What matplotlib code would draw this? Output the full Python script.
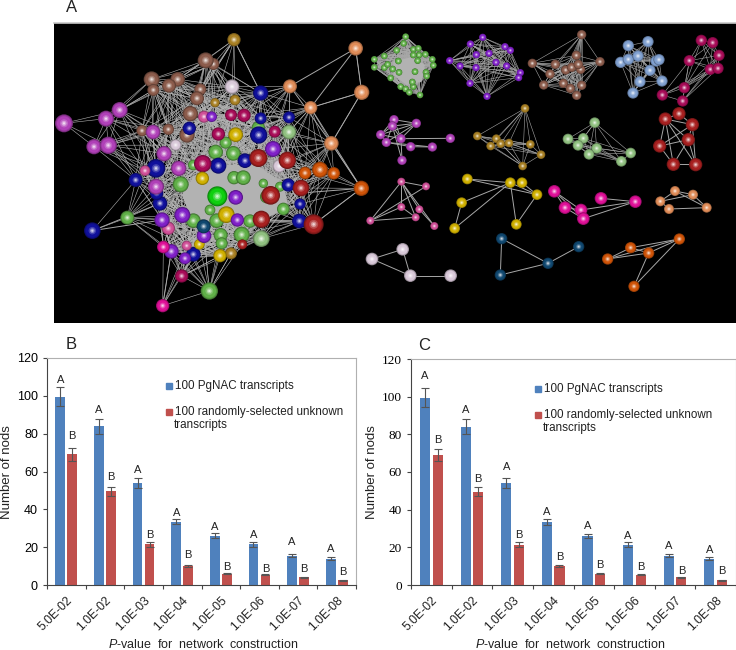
import itertools
import numpy as np
import matplotlib
matplotlib.use('Agg')
import matplotlib.pyplot as plt
from matplotlib.patches import Rectangle, Polygon

plt.rcParams['font.family'] = 'Liberation Sans'
plt.rcParams['mathtext.fontset'] = 'custom'
plt.rcParams['mathtext.it'] = 'Liberation Sans:italic'
plt.rcParams['mathtext.rm'] = 'Liberation Sans'

W, H = 736, 650

# bar chart data
pvalues = ['5.0E-02', '1.0E-02', '1.0E-03', '1.0E-04', '1.0E-05', '1.0E-06', '1.0E-07', '1.0E-08']
nac = [99.5, 84, 54, 33.5, 26, 21.5, 15.5, 14]
nac_err = [5, 4, 2.7, 1.5, 1.3, 1.2, 0.8, 0.7]
unknown = [69, 49.5, 21.5, 10, 6, 5.5, 4, 2.5]
unknown_err = [3.4, 2.4, 1.2, 0.6, 0.3, 0.3, 0.2, 0.2]
b_a_heights = [108.5, 92.6, 60.8, 37.9, 30.9, 26.5, 22.6, 19.2]
b_b_heights = [78.8, 57.3, 26.3, 15.7, 9.7, 8.6, 8.5, 6.7]
c_a_heights = [111, 92.9, 62.7, 39, 31.1, 26.1, 20.8, 18.7]
c_b_heights = [77.2, 56.5, 26.5, 15, 10.8, 9.7, 7.2, 7.2]

# network colours
palette = {
    'orchid': '#b040b8', 'brown': '#8c5c4c', 'gold': '#a88024', 'peach': '#e08c58',
    'navy': '#10109c', 'orange': '#d05408', 'red': '#a82020', 'green': '#60b048',
    'pale': '#90c080', 'violet': '#8020c8', 'magenta': '#e01098', 'crimson': '#a80c58',
    'yellow': '#d0b000', 'white': '#d8c8d8', 'teal': '#104870', 'pink': '#d05098',
    'lime': '#10d010', 'blue': '#80a0d0',
}

# big network, nodes as x, y, radius in a 3x view of the panel
big_nodes = {
    'gold': [(552, 119, 20), (495, 308, 14), (555, 300, 16), (543, 760, 18)],
    'peach': [(917, 145, 22), (720, 259, 21), (935, 277, 23), (782, 323, 20), (844, 430, 22)],
    'orange': [(934, 565, 23), (810, 509, 24), (851, 520, 19), (765, 519, 19)],
    'brown': [(490, 192, 18), (467, 181, 24), (305, 238, 24), (383, 238, 22), (357, 257, 21),
              (310, 270, 18), (451, 268, 18), (441, 295, 21), (421, 341, 23), (276, 392, 17),
              (355, 388, 17), (411, 405, 23)],
    'white': [(546, 260, 22), (377, 435, 17), (688, 498, 20)],
    'green': [(625, 383, 20), (497, 456, 22), (527, 428, 18), (392, 553, 24), (232, 653, 21),
              (430, 662, 22), (500, 662, 22), (512, 705, 21), (575, 704, 24), (700, 627, 19),
              (600, 663, 20), (478, 873, 26), (552, 533, 20), (580, 533, 22), (650, 590, 20),
              (550, 460, 22), (430, 495, 16), (480, 630, 16), (690, 560, 15), (640, 550, 14),
              (515, 730, 18)],
    'pale': [(717, 396, 22), (634, 716, 25)],
    'navy': [(632, 279, 23), (632, 355, 18), (717, 352, 18), (418, 385, 20), (257, 540, 21),
             (127, 692, 25), (585, 482, 22), (318, 505, 28), (330, 610, 22), (320, 580, 20),
             (748, 663, 22), (750, 612, 17), (715, 555, 20), (505, 497, 24), (626, 405, 26),
             (430, 763, 22)],
    'orchid': [(42, 370, 27), (168, 356, 24), (209, 330, 24), (132, 440, 23), (175, 436, 26),
               (309, 396, 22), (342, 461, 23), (386, 505, 23), (318, 560, 24)],
    'pink': [(462, 350, 18), (285, 512, 16), (355, 685, 20), (410, 737, 15)],
    'crimson': [(543, 345, 18), (582, 346, 20), (505, 402, 20), (674, 395, 18), (395, 828, 20),
                (458, 491, 26)],
    'yellow': [(457, 535, 20), (448, 733, 16), (557, 404, 22), (510, 767, 20), (529, 644, 25)],
    'violet': [(485, 350, 16), (669, 447, 24), (336, 660, 23), (397, 645, 24), (364, 754, 22),
               (405, 775, 18), (462, 707, 22), (557, 592, 22), (562, 660, 20)],
    'teal': [(461, 679, 21)],
    'magenta': [(340, 741, 19), (338, 917, 20)],
    'red': [(577, 733, 15), (625, 474, 27), (712, 481, 26), (662, 586, 28), (753, 564, 25),
            (634, 658, 26), (791, 673, 30)],
    'lime': [(502, 589, 30)],
}
# long links the distance rule misses
long_links = [((917, 145), (720, 259)), ((917, 145), (782, 323)), ((917, 145), (935, 277)),
              ((935, 277), (844, 430)), ((935, 277), (782, 323)), ((720, 259), (844, 430)),
              ((844, 430), (934, 565)), ((782, 323), (934, 565)), ((934, 565), (662, 586)),
              ((934, 565), (791, 673)), ((127, 692), (330, 610)), ((127, 692), (336, 660)),
              ((552, 119), (632, 279)), ((552, 119), (441, 295)), ((338, 917), (364, 754))]
blob_outline = [(430, 530), (520, 495), (620, 495), (700, 550), (715, 620), (630, 665),
                (500, 675), (420, 645), (395, 585)]
green_blob = [(130, 125), (190, 110), (225, 135), (215, 185), (170, 195), (130, 165)]

# small networks: colour, radius, nodes, edges (None means every close pair)
small_nets = [
    ('green', 10, [(167, 50), (161, 70), (140, 91), (103, 108), (73, 118), (73, 142), (103, 143),
                   (113, 133), (128, 147), (147, 157), (145, 123), (122, 174), (152, 200),
                   (167, 207), (178, 217), (190, 200), (210, 225), (187, 186), (195, 155),
                   (228, 157), (230, 168), (247, 118), (250, 136), (226, 103), (207, 105),
                   (190, 88), (205, 85), (190, 105), (203, 122)], None),
    ('violet', 11, [(398, 52), (361, 72), (465, 80), (481, 91), (417, 100), (379, 104), (299, 122),
                    (330, 138), (378, 143), (438, 127), (470, 138), (511, 158), (506, 173),
                    (360, 190), (411, 229)], None),
    ('brown', 14, [(695, 44), (679, 106), (547, 130), (616, 133), (750, 125), (600, 162), (647, 150),
                   (665, 142), (692, 148), (685, 133), (640, 190), (581, 195), (661, 205),
                   (695, 196), (680, 226)], None),
    ('blue', 17, [(835, 77), (894, 65), (812, 127), (835, 118), (864, 108), (918, 123), (927, 119),
                  (900, 151), (870, 185), (936, 183), (849, 219)], None),
    ('crimson', 17, [(1054, 61), (1088, 68), (1107, 106), (1018, 122), (1081, 148), (1104, 145),
                     (1003, 203), (937, 225), (998, 243)], None),
    ('orchid', 14, [(132, 299), (199, 310), (127, 318), (92, 344), (153, 356), (109, 367),
                    (182, 380), (247, 381), (301, 355), (156, 421)],
     [(0, 1), (0, 2), (0, 3), (0, 4), (1, 2), (1, 3), (1, 4), (2, 3), (2, 4), (2, 5), (3, 4),
      (3, 5), (4, 8), (5, 6), (6, 7), (5, 7), (2, 9), (4, 9), (1, 5)]),
    ('gold', 13, [(525, 265), (382, 348), (439, 356), (422, 378), (452, 371), (477, 369), (541, 373),
                  (573, 404), (518, 438)], None),
    ('pale', 16, [(734, 308), (654, 357), (700, 355), (684, 376), (740, 385), (717, 403), (842, 399),
                  (814, 424)], None),
    ('red', 20, [(946, 297), (987, 281), (1027, 314), (1015, 359), (929, 378), (970, 433), (1037, 434)],
     [(0, 1), (0, 2), (0, 3), (0, 4), (0, 5), (1, 2), (2, 3), (2, 4), (3, 4), (3, 5), (3, 6), (4, 5),
      (5, 6), (2, 6), (0, 6)]),
    ('pink', 12, [(154, 485), (228, 499), (154, 561), (208, 568), (197, 592), (61, 602), (253, 618)],
     [(0, 1), (0, 2), (0, 3), (0, 4), (0, 5), (1, 5), (2, 5), (4, 5), (3, 6), (0, 6), (2, 4)]),
    ('yellow', 16, [(352, 477), (481, 488), (516, 488), (561, 524), (335, 548), (499, 613), (314, 625)],
     [(0, 1), (0, 3), (1, 3), (2, 3), (1, 4), (1, 5), (1, 6), (3, 5), (4, 6)]),
    ('magenta', 19, [(613, 514), (645, 563), (693, 570), (700, 596), (753, 535), (856, 545)],
     [(0, 1), (0, 2), (1, 2), (1, 3), (2, 3), (4, 5), (2, 5), (3, 5), (0, 3)]),
    ('peach', 15, [(975, 513), (1029, 524), (931, 544), (957, 567), (1070, 563)],
     [(0, 2), (0, 1), (1, 4), (0, 4), (2, 3), (3, 4), (2, 1)]),
    ('white', 19, [(66, 717), (158, 688), (181, 767), (302, 767)],
     [(0, 1), (1, 2), (0, 2), (2, 3)]),
    ('teal', 17, [(455, 656), (451, 765), (594, 730), (686, 680)],
     [(0, 1), (0, 2), (1, 2), (2, 3)]),
    ('orange', 17, [(988, 657), (842, 683), (896, 699), (773, 717), (852, 799)],
     [(0, 1), (0, 2), (0, 3), (1, 2), (1, 3), (2, 3), (2, 4), (0, 4)]),
]

sphere_z = [10.0]


def axes_px(fig, left, top, right, bottom):
    return fig.add_axes([left / W, 1 - bottom / H, (right - left) / W, (bottom - top) / H])


def blend(c1, c2, t):
    a = np.array(matplotlib.colors.to_rgb(c1))
    b = np.array(matplotlib.colors.to_rgb(c2))
    return tuple(a + (b - a) * t)


def draw_sphere(ax, x, y, r, color):
    # stacked discs instead of a real shader
    steps = [(1.0, 0.35, 'k'), (0.9, 0.15, 'k'), (0.78, 0.0, 'k'),
             (0.45, 0.2, 'w'), (0.28, 0.5, 'w'), (0.13, 0.8, 'w')]
    for k, t, mix in steps:
        sphere_z[0] += 0.001
        ax.add_patch(plt.Circle((x, y), r * k, color=blend(color, mix, t), lw=0, zorder=sphere_z[0]))


def draw_edges(ax, xs, ys, pairs, lw=0.7, color='#a8a8a8'):
    for i, j in pairs:
        ax.plot([xs[i], xs[j]], [ys[i], ys[j]], color=color, lw=lw, solid_capstyle='round', zorder=2)


def draw_bars(ax, a_heights, b_heights, serif_ticks):
    x = np.arange(len(pvalues)) + 0.5
    err_style = dict(ecolor='#555555', elinewidth=0.8, capsize=3, capthick=0.8)
    ax.bar(x - 0.155, nac, 0.25, color='#4f81bd', yerr=nac_err, error_kw=err_style)
    ax.bar(x + 0.155, unknown, 0.25, color='#c0504d', yerr=unknown_err, error_kw=err_style)
    for i in range(len(pvalues)):
        ax.text(x[i] - 0.155, a_heights[i], 'A', ha='center', va='center', fontsize=8, color='#222222')
        ax.text(x[i] + 0.155, b_heights[i], 'B', ha='center', va='center', fontsize=8, color='#222222')
    ax.set_xlim(0, 8)
    ax.set_ylim(0, 120)
    ax.set_yticks(range(0, 121, 20))
    ax.set_xticks(range(9))
    ax.set_xticklabels([])
    ax.set_xticks(x, minor=True)
    ax.set_xticklabels(pvalues, minor=True, rotation=45, ha='right', rotation_mode='anchor',
                       fontsize=8.8, color='#222222')
    ax.tick_params(axis='x', which='minor', length=0, pad=7)
    ax.tick_params(axis='x', which='major', length=3, width=0.8, color='#444444')
    ax.tick_params(axis='y', length=3, width=0.8, color='#444444', labelsize=9.5 if serif_ticks else 9)
    if serif_ticks:
        for lab in ax.get_yticklabels():
            lab.set_family('Liberation Serif')
    for side, sp in ax.spines.items():
        sp.set_color('#444444' if side in ('left', 'bottom') else '#b0b0b0')
        sp.set_linewidth(0.8)


def fig_text(fig, x, y, s, **kw):
    kw.setdefault('fontsize', 8.4)
    kw.setdefault('color', '#222222')
    fig.text(x / W, 1 - y / H, s, va='center', **kw)


def legend_px(fig, x, y_blue, y_red, y_extra):
    for yy, col in ((y_blue, '#4f81bd'), (y_red, '#c0504d')):
        fig.add_artist(Rectangle(((x) / W, 1 - (yy + 3) / H), 6 / W, 6 / H, color=col,
                                 transform=fig.transFigure))
    fig_text(fig, x + 9, y_blue, '100 PgNAC transcripts')
    fig_text(fig, x + 9, y_red, '100 randomly-selected unknown')
    fig_text(fig, x + 8, y_extra, 'transcripts')


fig = plt.figure(figsize=(W / 100, H / 100), dpi=100)

# panel A
ax_net = axes_px(fig, 54, 23, 736, 323)
ax_net.set_xlim(54, 736)
ax_net.set_ylim(323, 23)
ax_net.set_facecolor('black')
ax_net.set_xticks([])
ax_net.set_yticks([])
for sp in ax_net.spines.values():
    sp.set_visible(False)
fig.add_artist(plt.Line2D([54 / W, 1], [1 - 23 / H] * 2, color='#c8c8c8', lw=1.2))

big = [(n[0] / 3 + 50, n[1] / 3, n[2] / 3, c) for c, nodes in big_nodes.items() for n in nodes]
bx = [n[0] for n in big]
by = [n[1] for n in big]
near = [(i, j) for i, j in itertools.combinations(range(len(big)), 2)
        if np.hypot(bx[i] - bx[j], by[i] - by[j]) < 70]
draw_edges(ax_net, bx, by, near, lw=0.4, color='#b4b4b4')
for p, q in long_links:
    ax_net.plot([p[0] / 3 + 50, q[0] / 3 + 50], [p[1] / 3, q[1] / 3], color='#a8a8a8', lw=0.7, zorder=2)
ax_net.add_patch(Polygon([(p[0] / 3 + 50, p[1] / 3) for p in blob_outline], color='#b2b2b2', lw=0, zorder=3))
ax_net.add_patch(Polygon([(p[0] / 3 + 350, p[1] / 3 + 20) for p in green_blob], color='#b2b2b2', lw=0, zorder=3))
for x, y, r, c in big:
    draw_sphere(ax_net, x, y, r, palette[c])

for col, rad, nodes, edges in small_nets:
    xs = [n[0] / 3 + 350 for n in nodes]
    ys = [n[1] / 3 + 20 for n in nodes]
    if edges is None:
        edges = [(i, j) for i, j in itertools.combinations(range(len(nodes)), 2)
                 if np.hypot(xs[i] - xs[j], ys[i] - ys[j]) < 62]
        draw_edges(ax_net, xs, ys, edges, lw=0.4)
    else:
        draw_edges(ax_net, xs, ys, edges, lw=0.7)
    for x, y in zip(xs, ys):
        draw_sphere(ax_net, x, y, rad / 3, palette[col])

# panels B and C
ax_b = axes_px(fig, 47, 358, 356, 585)
draw_bars(ax_b, b_a_heights, b_b_heights, False)
ax_c = axes_px(fig, 411, 359, 736, 585)
draw_bars(ax_c, c_a_heights, c_b_heights, True)

legend_px(fig, 166, 386, 412, 425)
legend_px(fig, 535, 389, 415, 428)

xlabel = '$\\it{P}$-value  for  network  construction'
fig_text(fig, 203, 645, xlabel, ha='center', fontsize=9)
fig_text(fig, 570, 645, xlabel, ha='center', fontsize=9)
fig_text(fig, 7, 472, 'Number of nods', ha='center', rotation=90, fontsize=9.5)
fig_text(fig, 372, 472, 'Number of nods', ha='center', rotation=90, fontsize=9.5)
fig_text(fig, 66, 7, 'A', fontsize=12, ha='left')
fig_text(fig, 66, 344, 'B', fontsize=12, ha='left')
fig_text(fig, 418, 346, 'C', fontsize=12, ha='left')

fig.savefig('out.png', dpi=100)
